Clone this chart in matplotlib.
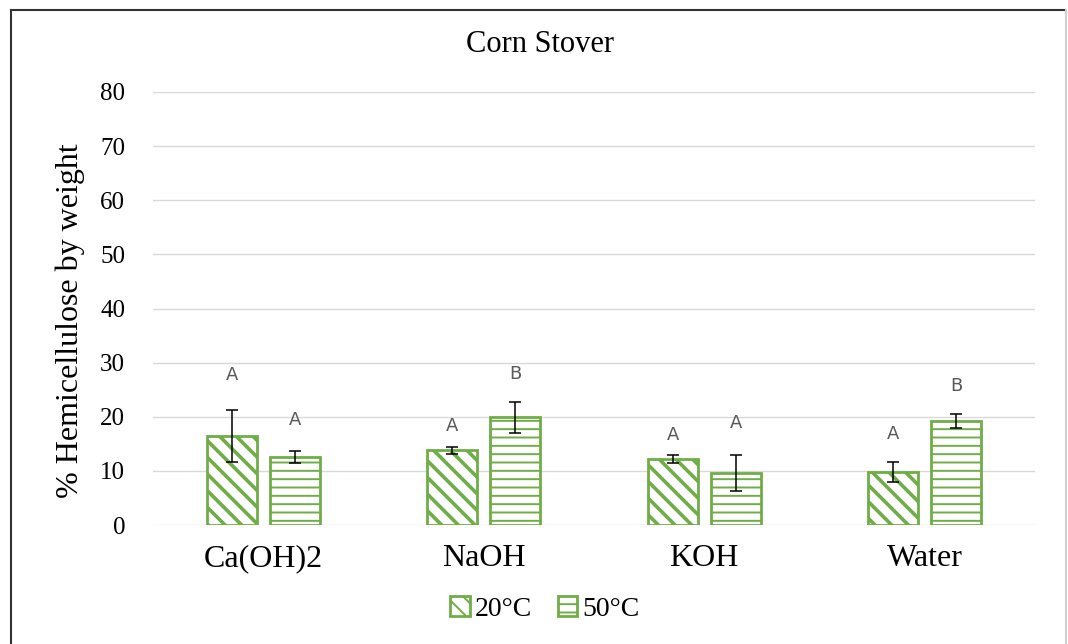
import numpy as np
import matplotlib.pyplot as plt
from matplotlib.lines import Line2D
from matplotlib.patches import Patch

# data
categories = ['Ca(OH)2', 'NaOH', 'KOH', 'Water']
series = ['20°C', '50°C']
mean_20 = [16.5, 13.8, 12.2, 9.8]
err_20 = [4.8, 0.6, 0.8, 1.9]
mean_50 = [12.5, 19.9, 9.6, 19.3]
err_50 = [1.1, 2.9, 3.3, 1.3]
letters_20 = ['A', 'A', 'A', 'A']
letters_50 = ['A', 'B', 'A', 'B']
letter_y_20 = [27.7, 18.2, 16.6, 16.8]
letter_y_50 = [19.4, 27.9, 18.8, 25.7]

green = '#70ad47'
serif = 'Liberation Serif'


def hatch_lw(artists, lw):
    for a in artists:
        if hasattr(a, 'set_hatch_linewidth'):
            a.set_hatch_linewidth(lw)


fig = plt.figure(figsize=(10.68, 6.44), dpi=100)
ax = fig.add_axes([153 / 1068, 1 - 525 / 644, 882 / 1068, 433 / 644])

x = np.arange(len(categories))
w = 0.227
off = 0.143

plt.rcParams['hatch.linewidth'] = 2.6
b1 = ax.bar(x - off, mean_20, w, facecolor='white', edgecolor=green,
            hatch='\\\\', linewidth=2, zorder=3)
hatch_lw(b1, 2.6)
plt.rcParams['hatch.linewidth'] = 1.4
b2 = ax.bar(x + off, mean_50, w, facecolor='white', edgecolor=green,
            hatch='--', linewidth=2, zorder=3)
hatch_lw(b2, 1.4)

ax.errorbar(x - off, mean_20, yerr=err_20, fmt='none', ecolor='black',
            elinewidth=1.1, capsize=4, capthick=1.1, zorder=4)
ax.errorbar(x + off, mean_50, yerr=err_50, fmt='none', ecolor='black',
            elinewidth=1.1, capsize=4, capthick=1.1, zorder=4)

for i in range(len(categories)):
    ax.text(x[i] - off, letter_y_20[i], letters_20[i], ha='center', va='center',
            fontsize=13, color='#595959', family='DejaVu Sans')
    ax.text(x[i] + off, letter_y_50[i], letters_50[i], ha='center', va='center',
            fontsize=13, color='#595959', family='DejaVu Sans')

ax.set_xlim(-0.5, 3.5)
ax.set_ylim(0, 80)
ax.set_yticks(np.arange(0, 81, 10))
ax.set_xticks(x)
ax.set_xticklabels(categories, family=serif, fontsize=23)
ax.tick_params(axis='y', length=0, pad=20, labelsize=18)
ax.tick_params(axis='x', length=0, pad=14)
for lab in ax.get_yticklabels():
    lab.set_family(serif)
ax.grid(axis='y', color='#d9d9d9', linewidth=1, zorder=0)
for s in ax.spines.values():
    s.set_visible(False)

ax.set_ylabel('% Hemicellulose by weight', family=serif, fontsize=23)
ax.yaxis.set_label_coords(-0.077, 0.471)
fig.text(540 / 1068, 1 - 45 / 644, 'Corn Stover', ha='center', va='center',
         family=serif, fontsize=22)

handles = [Patch(facecolor='white', edgecolor=green, hatch='\\\\', linewidth=2),
           Patch(facecolor='white', edgecolor=green, hatch='--', linewidth=2)]
leg = fig.legend(handles, series, loc='center', bbox_to_anchor=(545 / 1068, 1 - 609 / 644),
                 ncol=2, frameon=False, prop={'family': serif, 'size': 20},
                 handlelength=0.7, handleheight=0.7, handletextpad=0.2,
                 columnspacing=0.9)

# frame around the figure
fig.add_artist(Line2D([11 / 1068, 11 / 1068], [0, 1 - 10 / 644], color='#333333', lw=1.5))
fig.add_artist(Line2D([11 / 1068, 1066 / 1068], [1 - 10 / 644, 1 - 10 / 644], color='#333333', lw=1.5))
fig.add_artist(Line2D([1066 / 1068, 1066 / 1068], [0, 1 - 10 / 644], color='#d0d0d0', lw=1.5))

fig.savefig('out.png', dpi=100)
